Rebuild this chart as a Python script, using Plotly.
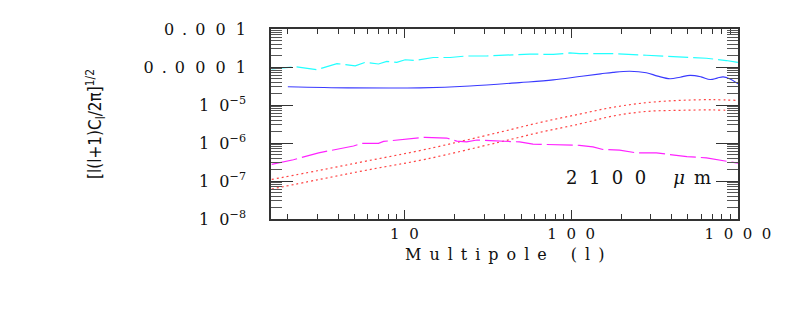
import plotly.graph_objects as go

# ---------------- data ----------------
ell_cyan = [1.6, 2.22, 2.99, 3.43, 3.94, 5.07, 5.81, 6.99, 7.84, 9.0, 10.1, 11.6, 13.3,
            14.9, 18.8, 23.6, 31.1, 41, 56.5, 78, 98, 112, 178, 282, 446, 647, 850, 1000]
val_cyan = [8.9e-5, 1.02e-4, 8.5e-5, 1.02e-4, 1.23e-4, 1.07e-4, 1.32e-4, 1.20e-4, 1.41e-4,
            1.32e-4, 1.55e-4, 1.48e-4, 1.62e-4, 1.78e-4, 1.78e-4, 1.95e-4, 1.95e-4, 2.09e-4,
            2.19e-4, 2.14e-4, 2.34e-4, 2.24e-4, 2.24e-4, 2.04e-4, 1.86e-4, 1.70e-4, 1.48e-4,
            1.32e-4]

ell_blue = [2.0, 4.6, 8.0, 12.4, 24.7, 49, 78, 112, 150, 178, 224, 282, 330, 391, 450,
            516, 600, 681, 750, 815, 890, 1000]
val_blue = [3.02e-5, 2.82e-5, 2.80e-5, 2.82e-5, 3.16e-5, 3.89e-5, 4.57e-5, 5.62e-5, 6.6e-5,
            7.24e-5, 7.76e-5, 7.08e-5, 5.75e-5, 4.90e-5, 5.40e-5, 6.03e-5, 5.50e-5, 4.68e-5,
            5.10e-5, 5.50e-5, 4.90e-5, 3.63e-5]

ell_magenta = [1.6, 2.16, 3.06, 4.95, 5.56, 6.99, 7.5, 9.6, 11.1, 13.3, 17.9, 20.6, 23.6,
               27.2, 32.6, 43.1, 49, 59, 74.5, 93.8, 112, 135, 155, 195, 247, 324, 391,
               494, 647, 815, 1000]
val_magenta = [2.75e-7, 3.63e-7, 5.50e-7, 8.32e-7, 9.77e-7, 9.77e-7, 1.10e-6, 1.23e-6,
               1.35e-6, 1.41e-6, 1.35e-6, 1.12e-6, 1.07e-6, 1.20e-6, 1.15e-6, 1.10e-6,
               1.07e-6, 9.33e-7, 9.12e-7, 9.12e-7, 8.71e-7, 7.94e-7, 6.76e-7, 6.46e-7,
               5.50e-7, 5.50e-7, 5.01e-7, 4.37e-7, 4.07e-7, 3.47e-7, 2.95e-7]

ell_red = [1.6, 3, 6, 13.3, 37, 65, 112, 178, 282, 446, 705, 1000]
val_red_upper = [1.10e-7, 1.86e-7, 3.39e-7, 6.76e-7, 1.91e-6, 3.47e-6, 5.75e-6, 8.71e-6,
                 1.15e-5, 1.32e-5, 1.38e-5, 1.32e-5]
val_red_lower = [6.17e-8, 1.07e-7, 1.95e-7, 3.72e-7, 1.05e-6, 1.91e-6, 3.16e-6, 5.13e-6,
                 6.76e-6, 7.24e-6, 7.41e-6, 7.08e-6]

y_tickvals = [1e-8, 1e-7, 1e-6, 1e-5, 1e-4, 1e-3]
y_ticktext = ["1\u20070<sup>\u22128</sup>", "1\u20070<sup>\u22127</sup>",
              "1\u20070<sup>\u22126</sup>", "1\u20070<sup>\u22125</sup>",
              "0\u2002.\u20020\u20070\u20070\u20071", "0\u2002.\u20020\u20070\u20071"]
x_tickvals = [10, 100, 1000]
x_ticktext = ["1\u20070", "1\u20070\u20070", "1\u20070\u20070\u20070"]

# ---------------- figure ----------------
FONT = "DejaVu Serif"
fig = go.Figure()
fig.add_trace(go.Scatter(x=ell_cyan, y=val_cyan, mode="lines",
                         line=dict(color="#22ffff", width=1.2, dash="20px,5px")))
fig.add_trace(go.Scatter(x=ell_blue, y=val_blue, mode="lines",
                         line=dict(color="#3a3aff", width=1.1, shape="spline")))
fig.add_trace(go.Scatter(x=ell_red, y=val_red_upper, mode="lines",
                         line=dict(color="#ff4444", width=1.2, dash="2px,3px", shape="spline")))
fig.add_trace(go.Scatter(x=ell_red, y=val_red_lower, mode="lines",
                         line=dict(color="#ff4444", width=1.2, dash="2px,3px", shape="spline")))
fig.add_trace(go.Scatter(x=ell_magenta, y=val_magenta, mode="lines",
                         line=dict(color="#ff22ff", width=1.2, dash="26px,5px")))

axis_common = dict(showgrid=False, zeroline=False, showline=True, linecolor="#333333",
                   linewidth=1.5, mirror="ticks", ticks="inside", tickcolor="#333333")

fig.update_xaxes(type="log", range=[0.2, 3], tickmode="array", tickvals=x_tickvals,
                 ticktext=x_ticktext, ticklen=9, tickwidth=1.2, ticklabelstandoff=0,
                 tickfont=dict(family=FONT, size=15, color="#111111"),
                 minor=dict(dtick="D1", ticks="inside", ticklen=5, tickcolor="#333333",
                            tickwidth=1.2),
                 **axis_common)
fig.update_yaxes(type="log", range=[-8, -3], tickmode="array", tickvals=y_tickvals,
                 ticktext=y_ticktext, ticklen=22, tickwidth=1.2, ticklabelstandoff=20,
                 tickfont=dict(family=FONT, size=16, color="#111111"),
                 minor=dict(dtick="D1", ticks="inside", ticklen=11, tickcolor="#555555",
                            tickwidth=1),
                 **axis_common)

fig.add_annotation(text="M\u2002u\u2002l\u2002t\u2002i\u2002p\u2002o\u2002l\u2002e\u2003\u2002(\u2002l\u2002)",
                   xref="paper", yref="paper", x=0.5, y=-0.185, xanchor="center",
                   yanchor="middle", showarrow=False,
                   font=dict(family=FONT, size=16, color="#111111"))
fig.add_annotation(text="[l(l+1)C<sub>l</sub>/2\u03c0]<sup>1/2</sup>",
                   xref="paper", yref="paper", x=-0.377, y=0.5, xanchor="center",
                   yanchor="middle", textangle=-90, showarrow=False,
                   font=dict(family="DejaVu Sans Condensed, DejaVu Sans", size=17,
                             color="#111111"))
fig.add_annotation(text="2\u20071\u20070\u20070\u2003\u2002<i>\u03bc</i>\u2002m",
                   xref="paper", yref="paper", x=0.946, y=0.22, xanchor="right",
                   yanchor="middle", showarrow=False,
                   font=dict(family=FONT, size=18, color="#111111"))

# the page body adds an 8px offset, so margins are reduced by 8px on left/top
fig.update_layout(width=797, height=319, showlegend=False,
                  margin=dict(l=263, r=67, t=16, b=108, pad=0),
                  paper_bgcolor="white", plot_bgcolor="white")

fig.write_html("out.html")
